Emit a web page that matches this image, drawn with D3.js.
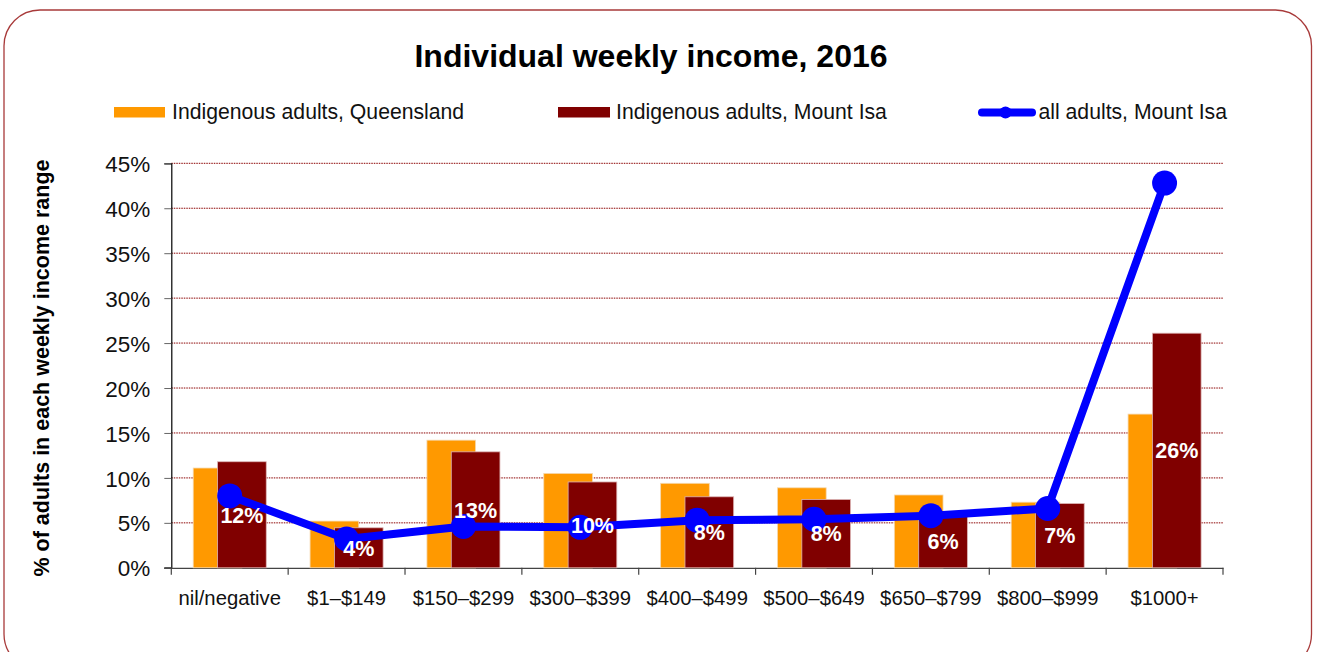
<!DOCTYPE html>
<html><head><meta charset="utf-8">
<script src="https://cdn.jsdelivr.net/npm/d3@7"></script>
<style>
html,body{margin:0;padding:0;background:#fff;}
svg{display:block;font-family:"Liberation Sans",Arial,sans-serif;}
</style></head>
<body>
<svg id="chart" width="1318" height="652"></svg>
<script>
const categories = ["nil/negative","$1–$149","$150–$299","$300–$399","$400–$499","$500–$649","$650–$799","$800–$999","$1000+"];
const qldIndigenous = [11.1, 5.2, 14.2, 10.5, 9.4, 8.9, 8.1, 7.3, 17.1];
const mtIsaIndigenous = [11.8, 4.45, 12.9, 9.55, 7.9, 7.6, 5.85, 7.15, 26.1];
const mtIsaAll = [8.0, 3.2, 4.6, 4.5, 5.3, 5.4, 5.8, 6.6, 42.8];
const yTicks = [0,5,10,15,20,25,30,35,40,45];
const seriesNames = ["Indigenous adults, Queensland","Indigenous adults, Mount Isa","all adults, Mount Isa"];
const titleText = "Individual weekly income, 2016";
const yTitle = "% of adults in each weekly income range";

(function(){
const svg = d3.select("#chart");
const pL = 171.3, pR = 1223, pT = 163.3, pB = 567.8;
const orange = "#FF9900", maroon = "#800000", blue = "#0000FF";

// frame
svg.append("rect").attr("x",4).attr("y",10).attr("width",1307.5).attr("height",660)
  .attr("rx",36).attr("ry",36).attr("fill","none").attr("stroke","#a83a3a").attr("stroke-width",1.3);

const x = d3.scaleBand().domain(categories).range([pL,pR]).padding(0);
const y = d3.scaleLinear().domain([0,45]).range([pB,pT]);

// gridlines
svg.append("g").selectAll("line").data(yTicks.filter(d=>d>0)).join("line")
  .attr("x1",pL).attr("x2",pR).attr("y1",d=>y(d)).attr("y2",d=>y(d))
  .attr("stroke","#8b0000").attr("stroke-width",1).attr("stroke-dasharray","1.5,1");

// y axis
const yAxis = svg.append("g").attr("transform",`translate(${pL},0)`)
  .call(d3.axisLeft(y).tickValues(yTicks).tickFormat(d=>d+"%").tickSize(7).tickPadding(14));
yAxis.select(".domain").attr("stroke","#000").attr("stroke-width",1.2);
yAxis.selectAll(".tick line").attr("stroke","#666");
yAxis.selectAll(".tick text").attr("font-size",22.5).attr("fill","#111").attr("font-family","Liberation Sans, Arial, sans-serif").attr("dy","0.36em");

// x axis
const xAxis = svg.append("g").attr("transform",`translate(0,${pB})`)
  .call(d3.axisBottom(x).tickSize(0).tickPadding(0));
xAxis.select(".domain").attr("stroke","#444").attr("stroke-width",1.2);
xAxis.selectAll(".tick text").attr("font-size",20.3).attr("fill","#111").attr("font-family","Liberation Sans, Arial, sans-serif").attr("y",37.5).attr("dy",0);
// category boundary ticks
svg.append("g").selectAll("line").data(categories.map(c=>x(c)).concat([pR])).join("line")
  .attr("x1",d=>d).attr("x2",d=>d).attr("y1",pB).attr("y2",pB+7)
  .attr("stroke","#444").attr("stroke-width",1.2);
svg.append("line").attr("x1",pL-7).attr("x2",pL).attr("y1",pB).attr("y2",pB).attr("stroke","#444").attr("stroke-width",1.2);

// bars (gap 90%, overlap 50%)
const bw = x.bandwidth()/2.4;
const cx = c => x(c)+x.bandwidth()/2;
const gl = c => cx(c) - 0.75*bw;
svg.append("g").selectAll("rect").data(categories).join("rect")
  .attr("x",c=>gl(c)).attr("width",bw)
  .attr("y",(c,i)=>y(qldIndigenous[i])).attr("height",(c,i)=>pB-y(qldIndigenous[i]))
  .attr("fill",orange).attr("stroke","#f5d9b0").attr("stroke-width",0.8);
svg.append("g").selectAll("rect").data(categories).join("rect")
  .attr("x",c=>gl(c)+0.5*bw).attr("width",bw)
  .attr("y",(c,i)=>y(mtIsaIndigenous[i])).attr("height",(c,i)=>pB-y(mtIsaIndigenous[i]))
  .attr("fill",maroon).attr("stroke","#dcb5b5").attr("stroke-width",0.8);

// line
const line = d3.line().x((d,i)=>cx(categories[i])).y(d=>y(d));
svg.append("path").datum(mtIsaAll).attr("d",line).attr("fill","none")
  .attr("stroke",blue).attr("stroke-width",8).attr("stroke-linejoin","round");
svg.append("g").selectAll("circle").data(mtIsaAll).join("circle")
  .attr("cx",(d,i)=>cx(categories[i])).attr("cy",d=>y(d)).attr("r",12.5).attr("fill",blue);

// data labels for Mount Isa indigenous
svg.append("g").selectAll("text").data(mtIsaIndigenous).join("text")
  .attr("x",(d,i)=>gl(categories[i])+bw).attr("y",d=>(y(d)+pB)/2)
  .attr("dy","0.36em").attr("text-anchor","middle")
  .attr("font-size",21.5).attr("font-weight","bold").attr("fill","#fff")
  .text(d=>Math.round(d)+"%");

// title
svg.append("text").attr("x",651).attr("y",67).attr("text-anchor","middle")
  .attr("font-size",32).attr("font-weight","bold").attr("fill","#000").text(titleText);

// y title
svg.append("text").attr("transform","translate(49,368) rotate(-90)").attr("text-anchor","middle")
  .attr("font-size",21.5).attr("font-weight","bold").attr("fill","#000").text(yTitle);

// legend
const lg = svg.append("g");
lg.append("rect").attr("x",114).attr("y",107).attr("width",51).attr("height",10.5).attr("fill",orange);
lg.append("text").attr("x",172).attr("y",119).attr("font-size",21.2).attr("fill","#111").text(seriesNames[0]);
lg.append("rect").attr("x",558).attr("y",107).attr("width",52).attr("height",10.5).attr("fill",maroon);
lg.append("text").attr("x",616).attr("y",119).attr("font-size",21.2).attr("fill","#111").text(seriesNames[1]);
lg.append("line").attr("x1",982).attr("x2",1032).attr("y1",112.5).attr("y2",112.5)
  .attr("stroke",blue).attr("stroke-width",8).attr("stroke-linecap","round");
lg.append("circle").attr("cx",1005.5).attr("cy",112.5).attr("r",6).attr("fill",blue);
lg.append("text").attr("x",1038.5).attr("y",119).attr("font-size",21.2).attr("fill","#111").text(seriesNames[2]);
})();
</script>
</body></html>
